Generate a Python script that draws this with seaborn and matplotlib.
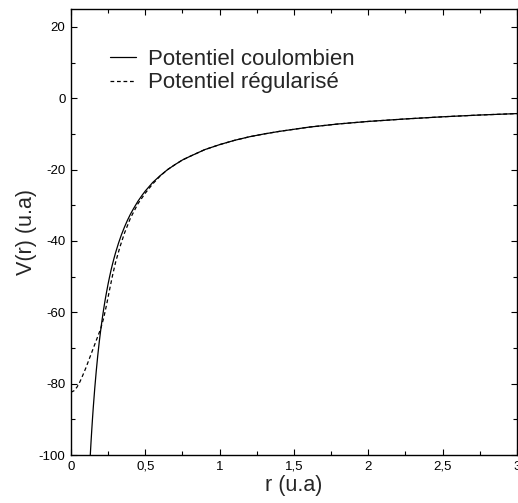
import numpy as np
import pandas as pd
import matplotlib
matplotlib.use('Agg')
import matplotlib.pyplot as plt
import seaborn as sns

# values
r_coul = [0.13, 0.135, 0.14, 0.145, 0.15, 0.16, 0.17, 0.18, 0.19, 0.20, 0.21, 0.22, 0.23,
          0.24, 0.25, 0.26, 0.27, 0.28, 0.29, 0.30, 0.32, 0.34, 0.36, 0.38, 0.40, 0.42,
          0.45, 0.48, 0.50, 0.55, 0.60, 0.65, 0.70, 0.75, 0.80, 0.90, 1.00, 1.10, 1.20,
          1.30, 1.40, 1.60, 1.80, 2.00, 2.25, 2.50, 2.75, 3.00]
v_coul = [-100.0, -96.3, -92.9, -89.7, -86.7, -81.3, -76.5, -72.2, -68.4, -65.0, -61.9, -59.1, -56.5,
          -54.2, -52.0, -50.0, -48.1, -46.4, -44.8, -43.3, -40.6, -38.2, -36.1, -34.2, -32.5, -31.0,
          -28.9, -27.1, -26.0, -23.6, -21.7, -20.0, -18.6, -17.3, -16.3, -14.4, -13.0, -11.8, -10.8,
          -10.0, -9.3, -8.1, -7.2, -6.5, -5.8, -5.2, -4.7, -4.3]

r_reg = [0.00, 0.02, 0.04, 0.06, 0.08, 0.10, 0.12, 0.14, 0.16, 0.18, 0.20, 0.22,
         0.24, 0.26, 0.28, 0.30, 0.33, 0.36, 0.40, 0.45, 0.50, 0.55, 0.60, 0.65, 0.70,
         0.75, 0.80, 0.90, 1.00, 1.10, 1.20, 1.30, 1.40, 1.60, 1.80, 2.00, 2.25, 2.50, 2.75, 3.00]
v_reg = [-82.4, -82.0, -81.0, -79.5, -77.6, -75.6, -73.4, -71.2, -69.0, -66.8, -64.6, -61.6,
         -57.8, -53.6, -49.6, -46.0, -41.6, -37.8, -33.6, -29.6, -26.6, -24.0, -21.8, -20.0, -18.6,
         -17.3, -16.3, -14.4, -13.0, -11.8, -10.8, -10.0, -9.3, -8.1, -7.2, -6.5, -5.8, -5.2, -4.7, -4.3]

labels = ['Potentiel coulombien', 'Potentiel régularisé']

sns.set_style('ticks')
plt.rcParams['font.family'] = ['Liberation Sans', 'DejaVu Sans']
plt.rcParams['axes.unicode_minus'] = False

fig = plt.figure(figsize=(5.18, 5.03), dpi=100)
ax = fig.add_axes([0.137, 0.0954, 0.861, 0.8866])

df_c = pd.DataFrame({'r': r_coul, 'V': v_coul})
df_r = pd.DataFrame({'r': r_reg, 'V': v_reg})
sns.lineplot(data=df_c, x='r', y='V', ax=ax, color='black', lw=0.9,
             estimator=None, label=labels[0])
sns.lineplot(data=df_r, x='r', y='V', ax=ax, color='black', lw=0.9,
             linestyle=(0, (3, 2.2)), estimator=None, label=labels[1])

ax.set_xlim(0, 3)
ax.set_ylim(-100, 25)
ax.set_xticks([0, 0.5, 1, 1.5, 2, 2.5, 3])
ax.set_xticklabels(['0', '0,5', '1', '1,5', '2', '2,5', '3'])
ax.set_xticks(np.arange(0.25, 3, 0.5), minor=True)
ax.set_yticks([-100, -80, -60, -40, -20, 0, 20])
ax.set_yticks([-90, -70, -50, -30, -10, 10], minor=True)

ax.tick_params(which='both', direction='in', top=True, right=True,
               labelsize=9.5, colors='black', width=0.8)
ax.tick_params(which='major', length=4.5, pad=4)
ax.tick_params(which='minor', length=2.8)
for s in ax.spines.values():
    s.set_color('black')
    s.set_linewidth(1.0)

ax.set_xlabel('r (u.a)', fontsize=15.5, labelpad=2)
ax.set_ylabel('V(r) (u.a)', fontsize=15.5, labelpad=1)

ax.legend(loc='upper left', bbox_to_anchor=(0.087, 0.911), frameon=False,
          fontsize=16, handlelength=1.2, handletextpad=0.5,
          borderpad=0, borderaxespad=0, labelspacing=0.12)

fig.savefig('out.png', dpi=100)
